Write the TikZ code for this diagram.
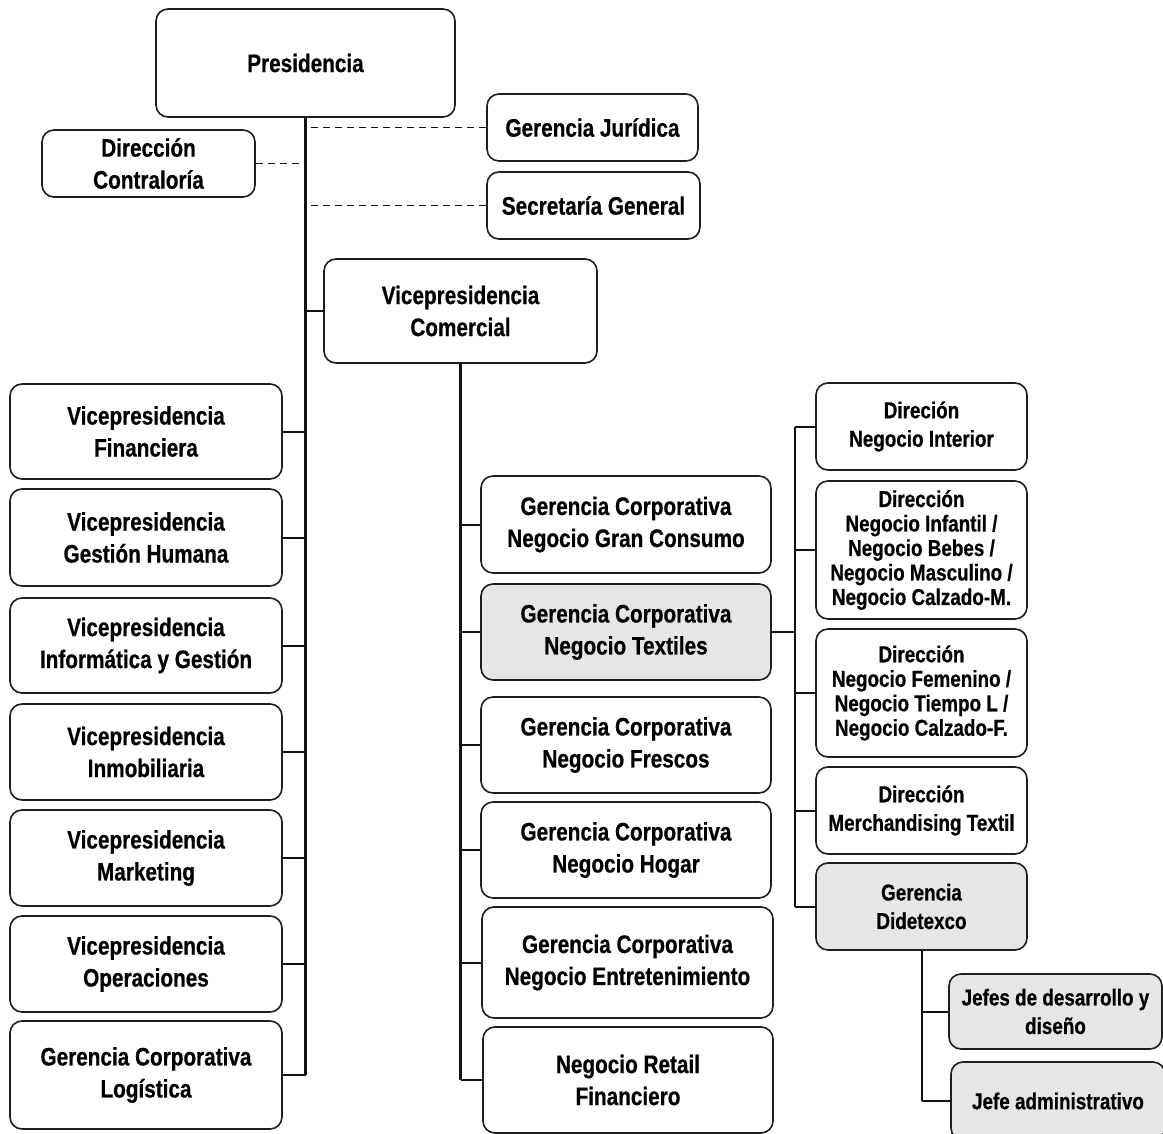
\documentclass[tikz,border=0pt]{standalone}
\usepackage{fontspec}
\setmainfont[FakeStretch=0.82,BoldFeatures={FakeBold=0.6}]{Liberation Sans}
\usetikzlibrary{positioning,calc}
\definecolor{ink}{HTML}{111111}
\definecolor{boxline}{HTML}{1E1E1E}
\definecolor{shade}{HTML}{E6E6E6}
\tikzset{
  every picture/.style={line width=1.5pt,font=\bfseries\fontsize{25.3}{32}\selectfont},
  bx/.style={draw=boxline,fill=white,rounded corners=12pt,align=center,inner sep=2pt,line width=1.6pt},
  bxg/.style={bx,fill=shade},
  sm/.style={font=\bfseries\fontsize{23}{28.5}\selectfont},
  smt/.style={font=\bfseries\fontsize{23}{24.5}\selectfont},
  lnk/.style={draw=ink,line width=2pt},
  trunk/.style={draw=ink,line width=2.8pt},
  dsh/.style={draw=ink,line width=1.5pt,dash pattern=on 7pt off 5pt},
}
\begin{document}
\begin{tikzpicture}[x=1pt,y=-1pt]
  \useasboundingbox (0,0) rectangle (1163,1134);
  % top of the chart
  \node[bx,minimum width=299,minimum height=108] (pres) at (305.5,63) {Presidencia};
  \node[bx,minimum width=211,minimum height=67] (jur) at (592.5,127.5) {Gerencia Jurídica};
  \node[bx,minimum width=213,minimum height=67] (con) at (148.5,163.5) {Dirección\\Contraloría};
  \node[bx,minimum width=213,minimum height=67] (sec) at (593.5,205.5) {Secretaría General};
  \node[bx,minimum width=273,minimum height=104] (com) at (460.5,311) {Vicepresidencia\\Comercial};
  % left column
  \node[bx,minimum width=272,minimum height=95] (fin) at (146,431.5) {Vicepresidencia\\Financiera};
  \node[bx,minimum width=272,minimum height=97] (gh) at (146,537.5) {Vicepresidencia\\Gestión Humana};
  \node[bx,minimum width=272,minimum height=95] (inf) at (146,645.5) {Vicepresidencia\\Informática y Gestión};
  \node[bx,minimum width=272,minimum height=96] (inm) at (146,752) {Vicepresidencia\\Inmobiliaria};
  \node[bx,minimum width=272,minimum height=96] (mkt) at (146,858) {Vicepresidencia\\Marketing};
  \node[bx,minimum width=272,minimum height=96] (ope) at (146,964) {Vicepresidencia\\Operaciones};
  \node[bx,minimum width=272,minimum height=108] (log) at (146,1075) {Gerencia Corporativa\\Logística};
  % middle column
  \node[bx,minimum width=290,minimum height=97] (gc) at (626,524.5) {Gerencia Corporativa\\Negocio Gran Consumo};
  \node[bxg,minimum width=290,minimum height=96] (tex) at (626,632) {Gerencia Corporativa\\Negocio Textiles};
  \node[bx,minimum width=290,minimum height=96] (fre) at (626,745) {Gerencia Corporativa\\Negocio Frescos};
  \node[bx,minimum width=290,minimum height=96] (hog) at (626,850) {Gerencia Corporativa\\Negocio Hogar};
  \node[bx,minimum width=291,minimum height=111] (ent) at (627.5,962.5) {Gerencia Corporativa\\Negocio Entretenimiento};
  \node[bx,minimum width=290,minimum height=106] (ret) at (628,1080) {Negocio Retail\\Financiero};
  % right column
  \node[bx,sm,minimum width=211,minimum height=87] (int) at (921.5,426.5) {Direción\\Negocio Interior};
  \node[bx,smt,minimum width=211,minimum height=138] (infa) at (921.5,550) {Dirección\\Negocio Infantil /\\Negocio Bebes /\\Negocio Masculino /\\Negocio Calzado-M.};
  \node[bx,smt,minimum width=211,minimum height=128] (fem) at (921.5,693) {Dirección\\Negocio Femenino /\\Negocio Tiempo L /\\Negocio Calzado-F.};
  \node[bx,sm,minimum width=211,minimum height=87] (mer) at (921.5,810.5) {Dirección\\Merchandising Textil};
  \node[bxg,sm,minimum width=211,minimum height=87] (did) at (921.5,906.5) {Gerencia\\Didetexco};
  \node[bxg,sm,minimum width=213,minimum height=75] (jds) at (1055.5,1011.5) {Jefes de desarrollo y\\diseño};
  \node[bxg,sm,minimum width=214,minimum height=78] (jad) at (1058,1101) {Jefe administrativo};
  % connectors
  \draw[trunk] (pres.south) -- (pres.south |- log.east);
  \foreach \n in {fin,gh,inf,inm,mkt,ope,log}
    \draw[lnk] (\n.east) -- (\n.east -| pres.south);
  \draw[lnk] (pres.south |- com.west) -- (com.west);
  \draw[dsh] ([xshift=5pt]pres.south |- jur.west) -- (jur.west);
  \draw[dsh] (con.east) -- (con.east -| pres.south);
  \draw[dsh] ([xshift=5pt]pres.south |- sec.west) -- (sec.west);
  \draw[trunk] (com.south) -- (com.south |- ret.west);
  \foreach \n in {gc,tex,fre,hog,ent,ret}
    \draw[lnk] (com.south |- \n.west) -- (\n.west);
  \draw[trunk] (tex.east) -- ++(23,0) coordinate (tj);
  \draw[lnk] (tj |- int.west) -- (tj |- did.west);
  \foreach \n in {int,infa,fem,mer,did}
    \draw[lnk] (tj |- \n.west) -- (\n.west);
  \draw[lnk] (did.south) -- (did.south |- jad.west);
  \foreach \n in {jds,jad}
    \draw[lnk] (did.south |- \n.west) -- (\n.west);
\end{tikzpicture}
\end{document}
